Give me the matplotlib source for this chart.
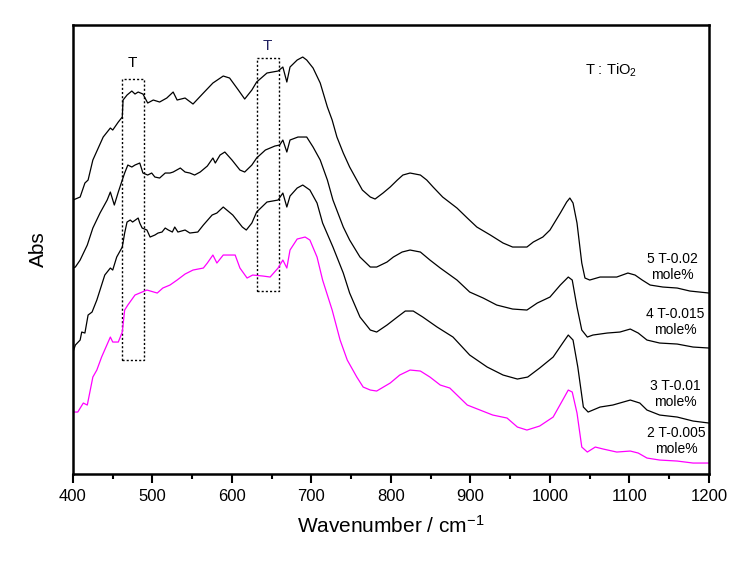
import matplotlib
matplotlib.use("Agg")
import matplotlib.pyplot as plt
from matplotlib.patches import Rectangle
from matplotlib.ticker import MultipleLocator

plt.rcParams["font.family"] = ["Liberation Sans", "DejaVu Sans"]
plt.rcParams["mathtext.default"] = "regular"

# sample 5 T-0.02 mole%
wn5 = [400, 409, 415, 419, 425, 438, 447, 450, 457, 462, 463, 468, 474, 478, 482,
       488, 494, 501, 509, 518, 526, 531, 541, 551, 564, 576, 589, 597, 608, 616,
       625, 631, 644, 658, 664, 669, 673, 682, 689, 694, 702, 711, 720, 726, 732,
       740, 748, 757, 764,
       774, 780, 790, 799, 808, 815, 824, 837, 845, 853, 865, 883, 896, 908, 925,
       941, 953, 971, 979, 991, 1000, 1013, 1021, 1025, 1029, 1034, 1040, 1044, 1050,
       1063, 1084, 1098, 1107, 1116, 1126, 1142, 1160, 1176, 1200]
abs5 = [274, 277, 291, 294, 314, 337, 346, 344, 352, 357, 374, 379, 383, 380, 382,
        380, 371, 374, 372, 376, 382, 374, 376, 370, 381, 391, 398, 396, 384, 375,
        384, 392, 401, 403, 407, 392, 407, 414, 417, 414, 406, 391, 367, 354, 337,
        321, 307, 294, 284,
        277, 275, 281, 287, 294, 299, 301, 299, 294, 287, 277, 266, 256, 247, 239,
        231, 227, 227, 232, 237, 244, 261, 272, 276, 271, 251, 211, 196, 194,
        197, 197, 201, 199, 194, 189, 187, 186, 183, 181]

# sample 4 T-0.015 mole%
wn4 = [400, 403, 409, 418, 425, 434, 443, 447, 452, 457, 462, 465, 469, 474, 478,
       484, 488, 494, 499, 503, 509, 516, 522, 526, 535, 541, 547, 553, 560, 569,
       576, 579, 585, 591, 600, 610, 616, 625, 631, 642, 654, 660, 664, 669, 673,
       683, 694, 702, 711, 720, 727, 740, 748, 761,
       774, 782, 795, 803, 814, 824, 837, 849, 862, 883, 899, 916, 933, 953, 971,
       984, 1000, 1013, 1023, 1028, 1034, 1040, 1047, 1054, 1072, 1088, 1101, 1111,
       1122, 1138, 1160, 1180, 1200]
abs4 = [206, 207, 214, 229, 246, 261, 274, 282, 269, 282, 294, 301, 309, 307, 309,
        311, 301, 299, 301, 297, 296, 301, 301, 302, 306, 302, 301, 299, 302, 308,
        316, 311, 319, 322, 314, 304, 302, 309, 316, 324, 328, 329, 334, 322, 334,
        337, 337, 327, 314, 294, 274, 247, 234, 217,
        207, 207, 212, 217, 222, 224, 222, 214, 206, 194, 182, 176, 169, 165, 164,
        171, 177, 189, 197, 194, 167, 144, 137, 139, 141, 142, 145, 141,
        134, 131, 130, 127, 126]

# sample 3 T-0.01 mole%
wn3 = [400, 403, 409, 411, 415, 419, 424, 430, 436, 440, 447, 450, 455, 462, 465,
       468, 472, 475, 482, 484, 487, 493, 497, 503, 507, 512, 516, 520, 525, 528,
       532, 541, 547, 557, 564, 575, 581, 589, 601, 613, 618, 625, 631, 644, 658,
       664, 669, 673, 682, 689, 698, 707, 714, 727, 740, 748, 761,
       774, 782, 795, 808, 818, 828, 840, 858, 878, 899, 921, 941, 959, 972, 987,
       1004, 1016, 1023, 1029, 1035, 1042, 1048, 1063, 1079, 1101, 1113, 1122, 1138,
       1160, 1180, 1200]
abs3 = [122, 129, 134, 142, 141, 159, 162, 174, 189, 199, 206, 204, 217, 227, 241,
        252, 254, 252, 256, 251, 246, 244, 237, 239, 241, 242, 246, 244, 242, 247,
        242, 244, 241, 242, 249, 259, 261, 267, 259, 247, 244, 251, 262, 272, 274,
        281, 267, 278, 286, 289, 284, 271, 251, 227, 201, 181, 157,
        144, 142, 149, 157, 163, 163, 157, 147, 137, 119, 107, 99, 95, 97, 106,
        117, 131, 139, 134, 107, 67, 62, 67, 69, 74, 71, 64, 59,
        57, 53, 51]

# sample 2 T-0.005 mole%
wn2 = [400, 401, 406, 413, 418, 421, 425, 430, 436, 447, 450, 457, 462, 465, 469,
       478, 487, 493, 506, 513, 522, 531, 541, 551, 564, 569, 576, 581, 589, 604,
       610, 619, 626, 639, 648, 658, 664, 669, 673, 682, 692, 698, 707, 714, 726,
       736, 745, 757, 765,
       774, 782, 799, 811, 824, 837, 849, 862, 874, 896, 912, 928, 946, 959, 971,
       987, 1004, 1016, 1023, 1028, 1034, 1040, 1047, 1057, 1067, 1084, 1101, 1111,
       1122, 1138, 1160, 1180, 1200]
abs2 = [66, 62, 62, 71, 69, 81, 97, 104, 117, 137, 132, 132, 142, 164, 169,
        179, 182, 184, 181, 186, 189, 194, 200, 204, 206, 211, 219, 211, 219, 219,
        206, 196, 199, 198, 197, 206, 214, 206, 224, 235, 237, 234, 217, 194, 164,
        134, 114, 97, 87,
        84, 83, 91, 99, 104, 103, 97, 89, 86, 69, 64, 59, 56, 47, 44,
        48, 57, 74, 84, 82, 61, 27, 22, 27, 25, 22, 23, 21,
        16, 14, 13, 11, 11]

series = [(wn5, abs5, "black"), (wn4, abs4, "black"), (wn3, abs3, "black"), (wn2, abs2, "#ff00ff")]
labels = ["5 T-0.02\nmole%", "4 T-0.015\nmole%", "3 T-0.01\nmole%", "2 T-0.005\nmole%"]
label_pos = [(1154, 207), (1158, 152), (1158, 80), (1159, 33)]

# dotted TiO2 boxes: (x0, x1, y0, y1)
boxes = [(462, 489, 114, 395), (632, 659, 183, 416)]

fig = plt.figure(figsize=(7.47, 5.61), dpi=100)
ax = fig.add_axes([0.0977, 0.155, 0.8514, 0.8004])

for x, y, c in series:
    ax.plot(x, y, color=c, lw=0.9)

for x0, x1, y0, y1 in boxes:
    ax.add_patch(Rectangle((x0, y0), x1 - x0, y1 - y0, fill=False, ec="black",
                           lw=1.0, ls=(0, (1.5, 1.5))))

ax.text(475, 411, "T", ha="center", va="center", fontsize=11)
ax.text(644, 428, "T", ha="center", va="center", fontsize=11, color="#202060")
ax.text(1044, 404, "T : TiO$_2$", ha="left", va="center", fontsize=10.5)

for (tx, ty), lab in zip(label_pos, labels):
    ax.text(tx, ty, lab, ha="center", va="center", fontsize=10, linespacing=1.15)

ax.set_xlim(400, 1200)
ax.set_ylim(0, 449)
ax.xaxis.set_major_locator(MultipleLocator(100))
ax.xaxis.set_minor_locator(MultipleLocator(50))
ax.tick_params(axis="x", which="major", direction="out", length=6.5, width=1.5,
               labelsize=12, pad=4)
ax.tick_params(axis="x", which="minor", direction="out", length=3.3, width=1.5)
ax.set_yticks([])
for sp in ax.spines.values():
    sp.set_linewidth(1.8)

ax.set_xlabel("Wavenumber / cm$^{-1}$", fontsize=15, labelpad=8)
ax.set_ylabel("Abs", fontsize=15, labelpad=18)

fig.savefig("out.png", dpi=100)
